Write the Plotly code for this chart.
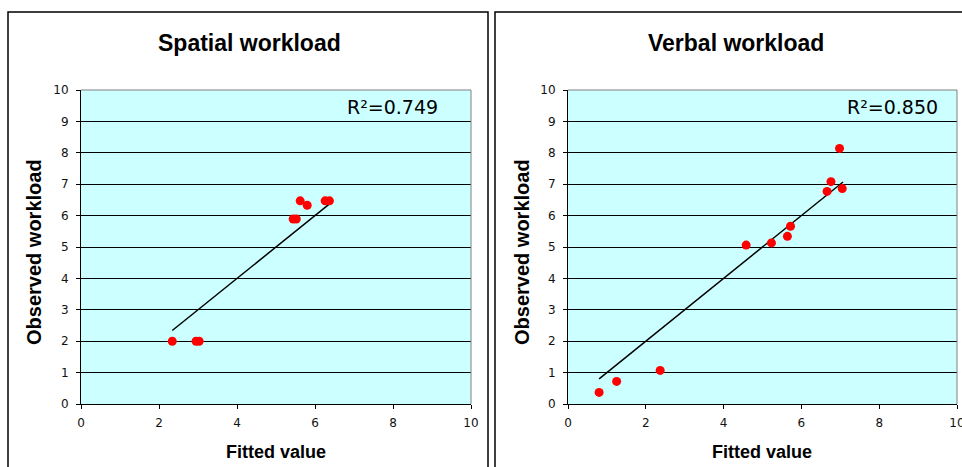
import plotly.graph_objects as go

# ---- data ----
spatial_fitted = [2.34, 2.95, 3.03, 5.44, 5.52, 5.62, 5.80, 6.26, 6.37]
spatial_observed = [2.00, 2.00, 2.00, 5.89, 5.89, 6.47, 6.33, 6.47, 6.47]
spatial_trend_x = [2.34, 6.38]
spatial_trend_y = [2.34, 6.38]
spatial_r2 = "R²=0.749"

verbal_fitted = [0.80, 1.25, 2.37, 4.58, 5.23, 5.64, 5.72, 6.66, 6.76, 6.98, 7.05]
verbal_observed = [0.37, 0.72, 1.07, 5.06, 5.13, 5.34, 5.66, 6.77, 7.08, 8.14, 6.86]
verbal_trend_x = [0.80, 7.07]
verbal_trend_y = [0.80, 7.07]
verbal_r2 = "R²=0.850"

titles = ["Spatial workload", "Verbal workload"]
x_title = "Fitted value"
y_title = "Observed workload"
x_ticks = [0, 2, 4, 6, 8, 10]
y_ticks = list(range(0, 11))

# ---- layout helpers (pixel -> paper, margins are zero) ----
W, H = 962, 467
def px(x):
    return x / W
def py(y):
    return 1 - y / H

FONT = "Liberation Sans, Arial, sans-serif"
TICKFONT = dict(family="DejaVu Sans, sans-serif", size=12, color="#111")

fig = go.Figure()

fig.add_trace(go.Scatter(x=spatial_trend_x, y=spatial_trend_y, mode="lines",
                         line=dict(color="black", width=1.5), xaxis="x", yaxis="y",
                         hoverinfo="skip"))
fig.add_trace(go.Scatter(x=spatial_fitted, y=spatial_observed, mode="markers",
                         marker=dict(color="#FF0000", size=9), xaxis="x", yaxis="y"))
fig.add_trace(go.Scatter(x=verbal_trend_x, y=verbal_trend_y, mode="lines",
                         line=dict(color="black", width=1.5), xaxis="x2", yaxis="y2",
                         hoverinfo="skip"))
fig.add_trace(go.Scatter(x=verbal_fitted, y=verbal_observed, mode="markers",
                         marker=dict(color="#FF0000", size=9), xaxis="x2", yaxis="y2"))

def xaxis(domain, anchor):
    return dict(domain=domain, anchor=anchor, range=[0, 10], tickvals=x_ticks,
                ticks="outside", ticklen=4, tickcolor="black", tickwidth=1,
                showline=True, linecolor="black", linewidth=1,
                showgrid=False, zeroline=False, fixedrange=True, automargin=False,
                ticklabeloverflow="allow", ticklabelstandoff=4,
                tickfont=TICKFONT)

def yaxis(anchor):
    return dict(domain=[py(404), py(90)], anchor=anchor, range=[0, 10], tickvals=y_ticks,
                ticks="outside", ticklen=4, tickcolor="black", tickwidth=1,
                showline=True, linecolor="black", linewidth=1,
                showgrid=True, gridcolor="black", gridwidth=1,
                zeroline=False, fixedrange=True, automargin=False,
                ticklabeloverflow="allow", ticklabelstandoff=5,
                tickfont=TICKFONT)

shapes = []
# panel borders
shapes.append(dict(type="rect", xref="paper", yref="paper",
                   x0=px(8), x1=px(488), y0=-0.05, y1=py(12),
                   line=dict(color="black", width=1.5), layer="below"))
shapes.append(dict(type="rect", xref="paper", yref="paper",
                   x0=px(495), x1=1.05, y0=-0.05, y1=py(12),
                   line=dict(color="black", width=1.5), layer="below"))
# gray top/right plot-area borders
for xr, yr in (("x domain", "y domain"), ("x2 domain", "y2 domain")):
    shapes.append(dict(type="line", xref=xr, yref=yr, x0=0, x1=1, y0=1, y1=1,
                       line=dict(color="#808080", width=1)))
    shapes.append(dict(type="line", xref=xr, yref=yr, x0=1, x1=1, y0=0, y1=1,
                       line=dict(color="#808080", width=1)))

annotations = []
for title, cx in zip(titles, (249, 735.5)):
    annotations.append(dict(text=f"<b>{title}</b>", xref="paper", yref="paper",
                            x=px(cx), y=py(42.5), showarrow=False,
                            xanchor="center", yanchor="middle",
                            font=dict(family=FONT, size=23, color="black")))
for cx in (276, 762):
    annotations.append(dict(text=f"<b>{x_title}</b>", xref="paper", yref="paper",
                            x=px(cx), y=py(452), showarrow=False,
                            xanchor="center", yanchor="middle",
                            font=dict(family=FONT, size=18, color="black")))
for cx in (34, 522):
    annotations.append(dict(text=f"<b>{y_title}</b>", xref="paper", yref="paper",
                            x=px(cx), y=py(252), showarrow=False, textangle=-90,
                            xanchor="center", yanchor="middle",
                            font=dict(family=FONT, size=20, color="black")))
for txt, cx in ((spatial_r2, 392), (verbal_r2, 892)):
    annotations.append(dict(text=txt, xref="paper", yref="paper",
                            x=px(cx), y=py(107), showarrow=False,
                            xanchor="center", yanchor="middle",
                            font=dict(family="DejaVu Sans, sans-serif", size=19, color="black")))

fig.update_layout(
    width=W, height=H,
    margin=dict(l=0, r=0, t=0, b=0, pad=0, autoexpand=False),
    paper_bgcolor="white",
    plot_bgcolor="#CCFFFF",
    showlegend=False,
    xaxis=xaxis([px(81), px(471)], "y"),
    yaxis=yaxis("x"),
    xaxis2=xaxis([px(568), px(957)], "y2"),
    yaxis2=yaxis("x2"),
    shapes=shapes,
    annotations=annotations,
)

fig.write_html(
    "out.html",
    config={"responsive": False, "displayModeBar": False},
    post_script="document.body.style.margin='0';document.body.style.padding='0';"
                "document.documentElement.style.overflow='hidden';",
)
